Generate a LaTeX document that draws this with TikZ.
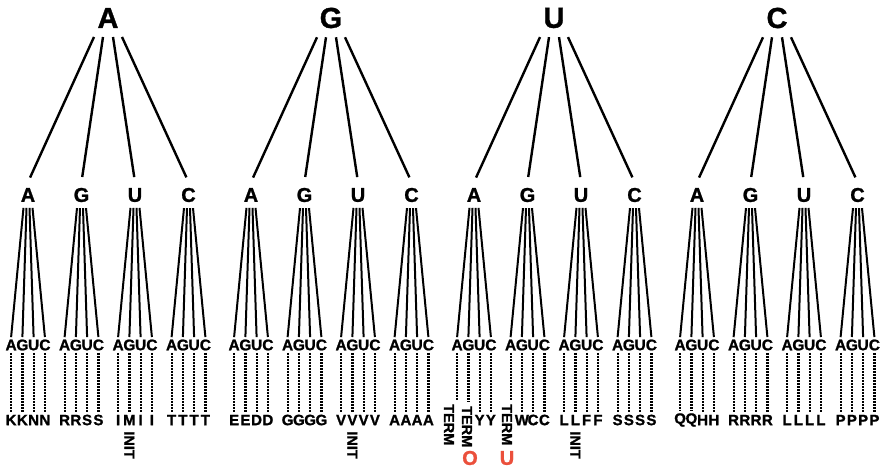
\documentclass[tikz,border=0pt]{standalone}
\usepackage{fontspec}
\setmainfont{Liberation Sans}[BoldFeatures={FakeBold=1.2}]
\usepackage{tikz}
\usetikzlibrary{positioning}

\definecolor{termred}{RGB}{235,80,60}

\begin{document}
\begin{tikzpicture}[
    x=1pt,
    y=-1pt,
    base/.style={
        font=\bfseries\fontsize{#1}{#1}\selectfont,
        inner sep=0pt
    },
    first/.style={base=29, outer sep=9pt},
    second/.style={base=20, outer sep=6pt},
    third/.style={base=15.5, outer sep=2.5pt},
    acid/.style={base=15, outer sep=3pt},
    vert/.style={base=14.5, rotate=-90, anchor=west},
    extra/.style={base=20, text=termred},
    stem/.style={line width=2.4pt, shorten >=5pt},
    twig/.style={line width=2pt},
    dots/.style={line width=2.2pt, dash pattern=on 2pt off 1pt}
]

\useasboundingbox (0,0) rectangle (884,470);

% First base
\foreach \g/\b in {0/A,1/G,2/U,3/C}
    \node[first] (t\b) at (108+223*\g,18) {\b};

% Second base
\foreach \g/\b in {0/A,1/G,2/U,3/C}{
    \foreach \i/\c/\o in {0/A/-14,1/G/-5,2/U/5,3/C/14}{
        \node[second] (s\b\c) at (28+223*\g+53.5*\i,195) {\c};
        \draw[stem] ([xshift=\o pt]t\b.south) -- (s\b\c.north);
    }
}

% Third base and amino acids
\foreach \g/\i/\code/\aA/\aG/\aU/\aC in {
    0/0/AA/K/K/N/N, 0/1/AG/R/R/S/S, 0/2/AU/I/M/I/I, 0/3/AC/T/T/T/T,
    1/0/GA/E/E/D/D, 1/1/GG/G/G/G/G, 1/2/GU/V/V/V/V, 1/3/GC/A/A/A/A,
    2/0/UA/-/-/Y/Y, 2/1/UG/-/W/C/C, 2/2/UU/L/L/F/F, 2/3/UC/S/S/S/S,
    3/0/CA/Q/Q/H/H, 3/1/CG/R/R/R/R, 3/2/CU/L/L/L/L, 3/3/CC/P/P/P/P}{
    \foreach \d/\o/\f/\a in {A/-4.5/-16.9/\aA, G/-1.5/-5.6/\aG,
                             U/1.5/5.6/\aU, C/4.5/16.9/\aC}{
        \node[third] (b\code\d) at (28+223*\g+53.5*\i+\f,345) {\d};
        \draw[twig] ([xshift=\o pt]s\code.south) -- (b\code\d.north);
        \if\a-\else
            \node[acid] (p\code\d) at (28+223*\g+53.5*\i+\f,420) {\a};
            \draw[dots] (b\code\d.south) -- (p\code\d.north);
        \fi
    }
}

% Stop codons
\node[vert] (pUAA) at (449,404) {TERM};
\node[vert] (pUAG) at (467,406) {TERM};
\node[vert] (pUGA) at (507,404) {TERM};
\draw[dots,shorten >=4pt] (bUAA.south) -- (bUAA.south |- pUAA.west);
\draw[dots,shorten >=4pt] (bUAG.south) -- (bUAG.south |- pUAG.west);
\draw[dots,shorten >=4pt] (bUGA.south) -- (bUGA.south |- pUGA.west);

\node[extra] (oUAG) at (470,458) {O};
\node[extra] (uUGA) at (507,458) {U};

% Start codons
\node[vert] (iAUG) at ([yshift=-3pt]pAUG.south) {INIT};
\node[vert] (iGUG) at ([yshift=-3pt]pGUG.south) {INIT};
\node[vert] (iUUG) at ([yshift=-3pt]pUUG.south) {INIT};

\end{tikzpicture}
\end{document}
